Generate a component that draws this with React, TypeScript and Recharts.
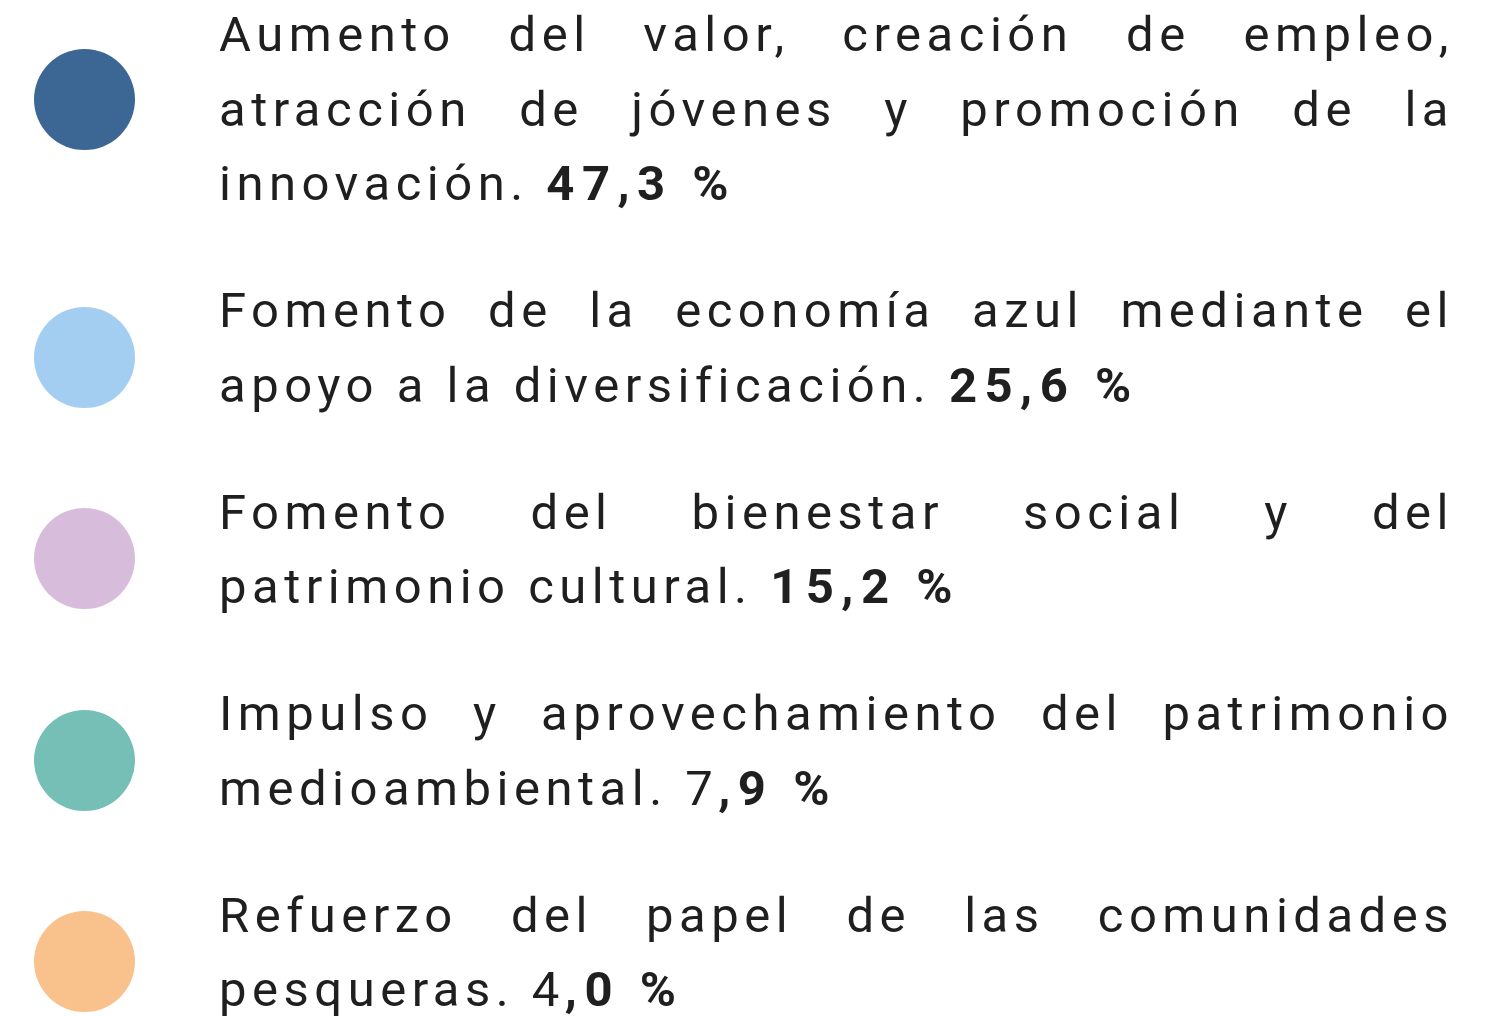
import { PieChart, Pie, Cell, Legend } from "recharts";

const categories = [
  "Aumento del valor, creación de empleo, atracción de jóvenes y promoción de la innovación.",
  "Fomento de la economía azul mediante el apoyo a la diversificación.",
  "Fomento del bienestar social y del patrimonio cultural.",
  "Impulso y aprovechamiento del patrimonio medioambiental.",
  "Refuerzo del papel de las comunidades pesqueras.",
];

// how the labels wrap in the original
const labelLines = [
  ["Aumento del valor, creación de empleo,", "atracción de jóvenes y promoción de la", "innovación."],
  ["Fomento de la economía azul mediante el", "apoyo a la diversificación."],
  ["Fomento del bienestar social y del", "patrimonio cultural."],
  ["Impulso y aprovechamiento del patrimonio", "medioambiental."],
  ["Refuerzo del papel de las comunidades", "pesqueras."],
];

const shares = [47.3, 25.6, 15.2, 7.9, 4.0];

const colors = ["#3c6794", "#a4cef1", "#d8bcdc", "#75bfb6", "#f9c28d"];

// in the source the first digit of the last two values is not bold
const regularDigits = [0, 0, 0, 1, 1];

const rows = categories.map((name, i) => ({ name, value: shares[i] }));

const LINE = 74.5;
const GAP = 52.5;
const BASE = 54;

const fmt = (v: number) => v.toFixed(1).replace(".", ",") + " %";

const renderLegend = (props: any) => {
  const payload = props.payload || [];
  return (
    <div style={{ position: "absolute", left: 0, top: -2, fontFamily: "Roboto", color: "#1f1f1f" }}>
      {categories.map((_, i) => {
        const lines = labelLines[i];
        const color = payload[i]?.color || colors[i];
        const txt = fmt(shares[i]);
        const k = regularDigits[i];
        return (
          <div key={i} style={{ position: "relative", width: 1503, height: lines.length * LINE, marginBottom: GAP }}>
            <div
              style={{
                position: "absolute",
                left: 34,
                top: BASE + (lines.length === 3 ? 47 : 29) - 50.5,
                width: 101,
                height: 101,
                borderRadius: "50%",
                background: color,
              }}
            />
            <div style={{ position: "absolute", left: 219, top: 0, width: 1235, fontSize: 49, lineHeight: LINE + "px", letterSpacing: 5.5 }}>
              {lines.map((ln, j) =>
                j < lines.length - 1 ? (
                  <div key={j} style={{ textAlign: "justify", textAlignLast: "justify", whiteSpace: "nowrap" }}>
                    {ln}
                  </div>
                ) : (
                  <div key={j} style={{ whiteSpace: "nowrap" }}>
                    {ln} {txt.slice(0, k)}
                    <b style={{ fontWeight: 700, letterSpacing: 7.5 }}>{txt.slice(k)}</b>
                  </div>
                )
              )}
            </div>
          </div>
        );
      })}
    </div>
  );
};

export default function App() {
  return (
    <div style={{ position: "absolute", left: 0, top: 0, width: 1503, height: 1016, background: "#fff", overflow: "hidden" }}>
      <PieChart width={1503} height={1016} margin={{ top: 0, right: 0, bottom: 0, left: 0 }}>
        <Pie
          data={rows}
          dataKey="value"
          nameKey="name"
          cx={-200}
          cy={-200}
          outerRadius={0}
          stroke="none"
          isAnimationActive={false}
        >
          {rows.map((_, i) => (
            <Cell key={i} fill={colors[i]} />
          ))}
        </Pie>
        <Legend
          layout="vertical"
          verticalAlign="top"
          align="left"
          content={renderLegend}
          wrapperStyle={{ left: 0, top: 0, width: 1503, height: 1016 }}
        />
      </PieChart>
    </div>
  );
}
